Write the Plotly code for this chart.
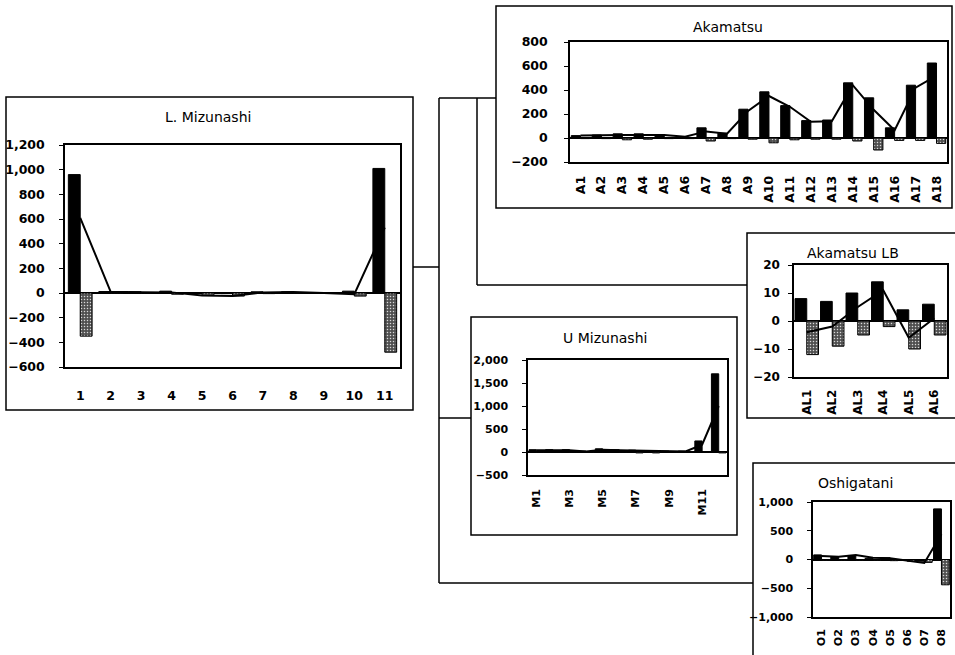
import plotly.graph_objects as go

W, H = 955, 655

# ---------------- data ----------------
lm_cats = ['1', '2', '3', '4', '5', '6', '7', '8', '9', '10', '11']
lm_pos = [960, 12, 10, 15, -5, -5, 10, 10, 2, 15, 1010]
lm_neg = [-350, -2, -3, -10, -20, -25, -5, -2, -3, -25, -480]
lm_line = [610, 10, 7, 5, -20, -25, 5, 8, 0, -10, 530]

ak_cats = ['A1', 'A2', 'A3', 'A4', 'A5', 'A6', 'A7', 'A8', 'A9', 'A10', 'A11', 'A12',
           'A13', 'A14', 'A15', 'A16', 'A17', 'A18']
ak_pos = [20, 25, 35, 35, 25, 10, 85, 40, 240, 385, 270, 145, 150, 460, 335, 85, 440, 625]
ak_neg = [-5, -5, -15, -10, -5, -5, -25, -5, -10, -40, -15, -10, -10, -25, -100, -20, -20, -45]
ak_line = [20, 25, 25, 25, 25, 10, 55, 35, 225, 350, 260, 135, 140, 440, 235, 65, 420, 520]

lb_cats = ['AL1', 'AL2', 'AL3', 'AL4', 'AL5', 'AL6']
lb_pos = [8, 7, 10, 14, 4, 6]
lb_neg = [-12, -9, -5, -2, -10, -5]
lb_line = [-4, -2, 5, 11, -6, 1]

um_cats = ['M1', 'M2', 'M3', 'M4', 'M5', 'M6', 'M7', 'M8', 'M9', 'M10', 'M11', 'M12']
um_ticks = ['M1', 'M3', 'M5', 'M7', 'M9', 'M11']
um_pos = [50, 50, 50, 20, 70, 50, 40, 30, 20, 20, 240, 1700]
um_neg = [-10, -10, -10, -10, -10, -10, -20, -20, -10, -10, -10, -20]
um_line = [40, 40, 40, 10, 50, 40, 30, 20, 10, 10, 160, 1000]

os_cats = ['O1', 'O2', 'O3', 'O4', 'O5', 'O6', 'O7', 'O8']
os_pos = [80, 50, 70, 20, 30, -10, -30, 880]
os_neg = [-10, -10, -10, -10, -20, -30, -50, -440]
os_line = [60, 50, 80, 30, 20, -20, -60, 440]

titles = ['L. Mizunashi', 'Akamatsu', 'Akamatsu LB', 'U Mizunashi', 'Oshigatani']

# ---------------- layout geometry (pixels) ----------------
def px(x):
    return x / W

def py(y):
    return 1 - y / H

panels = [
    dict(title=titles[0], cats=lm_cats, pos=lm_pos, neg=lm_neg, line=lm_line, ticks=None,
         box=(6, 97, 413, 410), plot=(65, 145, 400, 367), tpos=(208, 117),
         rng=[-600, 1200], dtick=200, angle=0, width=0.39, standoff=16, ystand=12, fs=12.5),
    dict(title=titles[1], cats=ak_cats, pos=ak_pos, neg=ak_neg, line=ak_line, ticks=None,
         box=(496, 6, 952, 208), plot=(570, 42, 947, 162), tpos=(728, 27),
         rng=[-200, 800], dtick=200, angle=-90, width=0.44, standoff=7, ystand=14, fs=12.5),
    dict(title=titles[2], cats=lb_cats, pos=lb_pos, neg=lb_neg, line=lb_line, ticks=None,
         box=(747, 233, 962, 418), plot=(794, 265, 947, 377), tpos=(853, 253),
         rng=[-20, 20], dtick=10, angle=-90, width=0.46, standoff=6, ystand=6, fs=12),
    dict(title=titles[3], cats=um_cats, pos=um_pos, neg=um_neg, line=um_line, ticks=um_ticks,
         box=(471, 317, 737, 535), plot=(528, 360, 727, 475), tpos=(605, 338),
         rng=[-500, 2000], dtick=500, angle=-90, width=0.44, standoff=8, ystand=12, fs=11),
    dict(title=titles[4], cats=os_cats, pos=os_pos, neg=os_neg, line=os_line, ticks=None,
         box=(753, 463, 962, 662), plot=(813, 502, 950, 617), tpos=(855, 483),
         rng=[-1000, 1000], dtick=500, angle=-90, width=0.46, standoff=6, ystand=12, fs=11),
]

connectors = [
    (413, 267, 439, 267), (439, 98, 439, 583), (439, 98, 496, 98),
    (477, 98, 477, 285), (477, 285, 747, 285), (439, 418, 471, 418),
    (439, 583, 753, 583),
]

TICKFONT = "DejaVu Sans, sans-serif"
TITLEFONT = "DejaVu Sans, sans-serif"

fig = go.Figure()
shapes = []
annotations = []
layout = {}

for i, p in enumerate(panels, start=1):
    xkey = 'xaxis' if i == 1 else f'xaxis{i}'
    ykey = 'yaxis' if i == 1 else f'yaxis{i}'
    xref = 'x' if i == 1 else f'x{i}'
    yref = 'y' if i == 1 else f'y{i}'
    w = p['width']
    tickfont = dict(family=TICKFONT, size=p['fs'], color='black', weight='bold')
    fig.add_trace(go.Bar(x=p['cats'], y=p['pos'], xaxis=xref, yaxis=yref,
                         width=w, offset=-w,
                         marker=dict(color='black', line=dict(color='black', width=1)),
                         showlegend=False))
    fig.add_trace(go.Bar(x=p['cats'], y=p['neg'], xaxis=xref, yaxis=yref,
                         width=w, offset=0,
                         marker=dict(color='#707070', line=dict(color='black', width=1),
                                     pattern=dict(shape='.', fgcolor='#d8d8d8', bgcolor='#505050',
                                                  size=3, solidity=0.2, fillmode='replace')),
                         showlegend=False))
    fig.add_trace(go.Scatter(x=p['cats'], y=p['line'], xaxis=xref, yaxis=yref, mode='lines',
                             line=dict(color='black', width=2), showlegend=False))

    bx0, by0, bx1, by1 = p['plot']
    xdom = [px(bx0), px(bx1)]
    ydom = [py(by1), py(by0)]
    n = len(p['cats'])
    xa_dict = dict(domain=xdom, anchor=yref, type='category', range=[-0.5, n - 0.5],
                   showline=True, mirror=True, linecolor='black', linewidth=1.5,
                   ticks='', showgrid=False, zeroline=False, tickangle=p['angle'],
                   tickfont=tickfont, ticklabelstandoff=p['standoff'], automargin=False,
                   categoryorder='array', categoryarray=p['cats'])
    if p['ticks'] is not None:
        xa_dict.update(tickmode='array', tickvals=p['ticks'], ticktext=p['ticks'])
    layout[xkey] = xa_dict
    layout[ykey] = dict(domain=ydom, anchor=xref, range=p['rng'], dtick=p['dtick'],
                        tickformat=',d', showline=True, mirror=True, linecolor='black',
                        linewidth=1.5, ticks='outside', ticklen=4, tickcolor='black',
                        showgrid=False, zeroline=True, zerolinecolor='black',
                        zerolinewidth=1.5, tickfont=tickfont, automargin=False,
                        ticklabelstandoff=p['ystand'])
    # category boundary ticks on the zero line
    r0, r1 = p['rng']
    zpos = ydom[0] + (0 - r0) / (r1 - r0) * (ydom[1] - ydom[0])
    okey = f'xaxis{i + 5}'
    layout[okey] = dict(overlaying=xref, anchor='free', position=zpos, domain=xdom,
                        type='linear', range=[-0.5, n - 0.5], automargin=False,
                        tickmode='array', tickvals=[k + 0.5 for k in range(n - 1)],
                        ticks='inside', ticklen=4, tickcolor='black', tickwidth=1,
                        showticklabels=False, showgrid=False, zeroline=False, showline=False)

    ox0, oy0, ox1, oy1 = p['box']
    shapes.append(dict(type='rect', xref='paper', yref='paper',
                       x0=px(ox0), x1=px(ox1), y0=py(oy1), y1=py(oy0),
                       line=dict(color='black', width=1.5), fillcolor='rgba(0,0,0,0)', layer='below'))
    tx, ty = p['tpos']
    annotations.append(dict(text=p['title'], x=px(tx), y=py(ty), xref='paper', yref='paper',
                            showarrow=False, xanchor='center', yanchor='middle',
                            font=dict(family=TITLEFONT, size=14, color='black')))

for (x0, y0, x1, y1) in connectors:
    shapes.append(dict(type='line', xref='paper', yref='paper',
                       x0=px(x0), x1=px(x1), y0=py(y0), y1=py(y1),
                       line=dict(color='black', width=1.5)))

fig.update_layout(width=W, height=H, autosize=False,
                  margin=dict(l=0, r=0, t=0, b=0, pad=0, autoexpand=False),
                  paper_bgcolor='white', plot_bgcolor='white',
                  barmode='overlay', shapes=shapes, annotations=annotations,
                  showlegend=False, **layout)

fig.write_html("out.html", config={'displayModeBar': False},
               post_script="document.body.style.margin='0';document.body.style.overflow='hidden';")
